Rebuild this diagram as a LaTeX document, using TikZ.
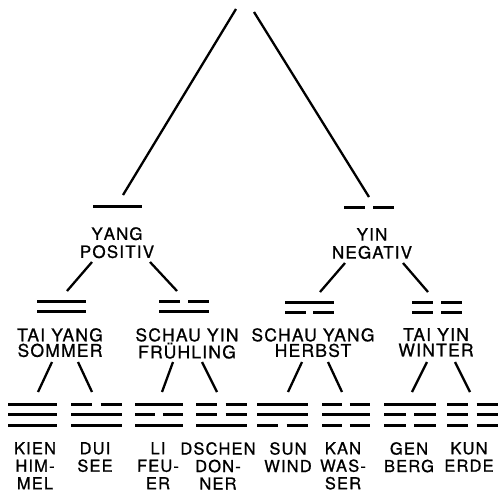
\documentclass[tikz,border=0pt]{standalone}
\usepackage{fontspec}
\setmainfont{TeX Gyre Heros}[LetterSpace=7,FakeBold=0.9]
\newcommand\tgS[3]{\draw[barline] (#1,#3) -- (#2,#3);}
\newcommand\tgB[3]{%
  \pgfmathsetmacro\tgA{#1+0.42*(#2-#1)}%
  \pgfmathsetmacro\tgZ{#2-0.42*(#2-#1)}%
  \draw[barline] (#1,#3) -- (\tgA,#3) (\tgZ,#3) -- (#2,#3);}
\newcommand\tgline[4]{\csname tg#4\endcsname{#1}{#2}{#3}}
\newcommand\trigram[5]{\tgline{#1}{#2}{404}{#3}\tgline{#1}{#2}{414.5}{#4}\tgline{#1}{#2}{425}{#5}}
\begin{document}
\begin{tikzpicture}[x=1pt,y=-1pt,
  barline/.style={line width=3pt},
  branch/.style={line width=2.3pt},
  lab/.style={anchor=north,inner sep=0pt,align=center,font=\fontsize{17.5}{15.5}\selectfont},
  labtop/.style={anchor=north,inner sep=0pt,align=center,font=\fontsize{17}{18}\selectfont},
  labthree/.style={anchor=north,inner sep=0pt,align=center,font=\fontsize{16.5}{17.5}\selectfont}]
\useasboundingbox (0,0) rectangle (500,490);

% level 0 -> 1
\coordinate (apexL) at (236,9);
\coordinate (apexR) at (254,12);
\coordinate (yangT) at (123,195);
\coordinate (yinT) at (369,197);
\draw[branch] (apexL) -- (yangT);
\draw[branch] (apexR) -- (yinT);

% level 1 bars
\tgS{93}{142}{206}
\tgB{344}{394}{207}

% level 1 labels
\node[labtop] (yang) at (117,227) {Y\kern1pt A\kern1pt N\kern1pt G\\POSITIV};
\node[labtop] (yin) at (372,228) {YIN\\NEGATIV};

% level 1 -> 2
\coordinate (yangL) at (92,262);  \coordinate (taiyangT) at (67,291);
\coordinate (yangR) at (150,262); \coordinate (schauyinT) at (177,291);
\coordinate (yinL) at (345,263);  \coordinate (schauyangT) at (320,292);
\coordinate (yinR) at (403,263);  \coordinate (taiyinT) at (428,292);
\draw[branch] (yangL) -- (taiyangT);
\draw[branch] (yangR) -- (schauyinT);
\draw[branch] (yinL) -- (schauyangT);
\draw[branch] (yinR) -- (taiyinT);

% level 2 bars
\tgS{37}{86}{301}   \tgS{37}{86}{311}
\tgB{159}{209}{301} \tgS{159}{209}{311}
\tgS{285}{334}{302} \tgB{285}{334}{312}
\tgB{412}{462}{302} \tgB{412}{462}{312}

% level 2 labels
\node[lab] (taiyang) at (60,328) {TAI YANG\\SOMMER};
\node[lab] (schauyin) at (187,328) {SCHAU YIN\\FRÜHLING};
\node[lab] (schauyang) at (313,328) {SCHAU YANG\\HERBST};
\node[lab] (taiyin) at (436,328) {TAI YIN\\WINTER};

% level 2 -> 3
\coordinate (a1) at (52,362);  \coordinate (kienT) at (38,392);
\coordinate (a2) at (78,362);  \coordinate (duiT) at (92,392);
\coordinate (a3) at (173,362); \coordinate (liT) at (162,392);
\coordinate (a4) at (202,362); \coordinate (dschenT) at (217,392);
\coordinate (a5) at (302,362); \coordinate (sunT) at (288,392);
\coordinate (a6) at (328,362); \coordinate (kanT) at (342,392);
\coordinate (a7) at (427,362); \coordinate (genT) at (412,392);
\coordinate (a8) at (455,362); \coordinate (kunT) at (470,392);
\foreach \p/\q in {a1/kienT,a2/duiT,a3/liT,a4/dschenT,a5/sunT,a6/kanT,a7/genT,a8/kunT}
  \draw[branch] (\p) -- (\q);

% level 3 trigrams
\trigram{8}{57}{S}{S}{S}
\trigram{71}{122}{B}{S}{S}
\trigram{135}{183}{S}{B}{S}
\trigram{196}{247}{B}{B}{S}
\trigram{257}{308}{S}{S}{B}
\trigram{322}{370}{B}{S}{B}
\trigram{384}{436}{S}{B}{B}
\trigram{447}{498}{B}{B}{B}

% level 3 labels
\node[labthree] (kien) at (35,442) {KIEN\\HIM-\\MEL};
\node[labthree] (dui) at (95,442) {DUI\\SEE};
\node[labthree] (li) at (158,442) {LI\\FEU-\\ER};
\node[labthree] (dschen) at (218,442) {DSCHEN\\DON-\\NER};
\node[labthree] (sun) at (288,442) {SUN\\WIND};
\node[labthree] (kan) at (343,442) {KAN\\WAS-\\SER};
\node[labthree] (gen) at (409,442) {GEN\\BERG};
\node[labthree] (kun) at (469,442) {KUN\\ERDE};
\end{tikzpicture}
\end{document}
